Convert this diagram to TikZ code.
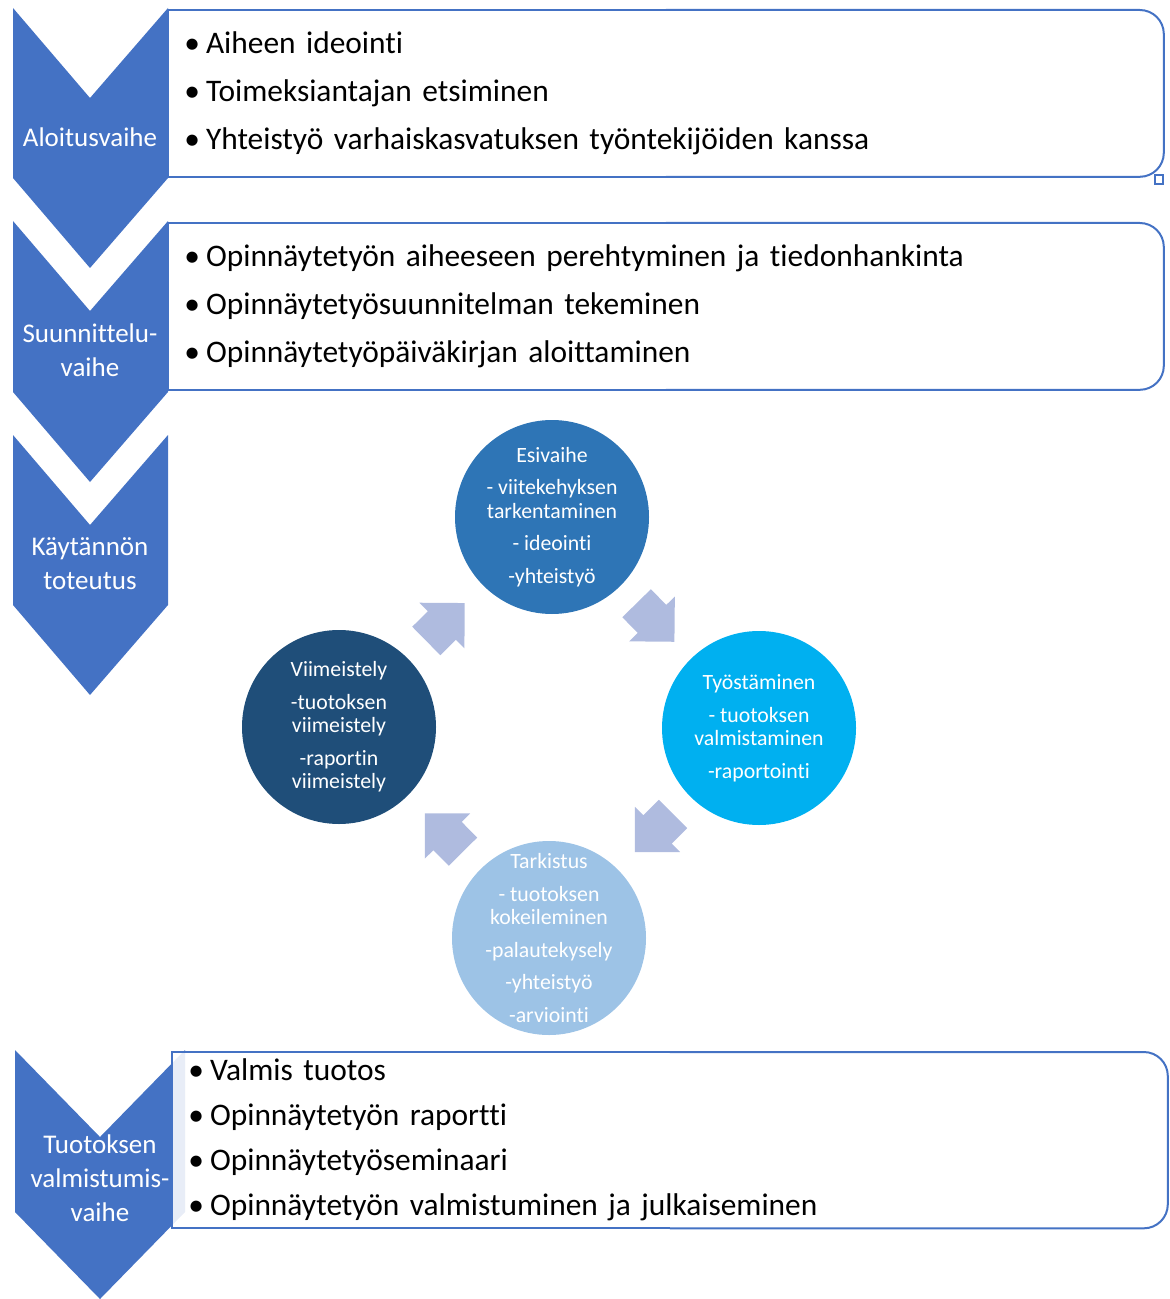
\documentclass[tikz,border=0pt]{standalone}
\usepackage{fontspec}
\setmainfont{Carlito}[Ligatures={NoCommon}, Contextuals={NoAlternate}]
\usetikzlibrary{positioning}
\definecolor{phaseblue}{HTML}{4472C4}
\definecolor{esicol}{HTML}{2E75B6}
\definecolor{tyocol}{HTML}{00B0F0}
\definecolor{tarkcol}{HTML}{9DC3E6}
\definecolor{viimcol}{HTML}{1F4E79}
\definecolor{arrowfill}{HTML}{AFBBDF}
\tikzset{
  phase/.style={fill=phaseblue},
  phasetext/.style={text=white, align=center, font=\fontsize{13.5}{17}\selectfont},
  listbox/.style={rectangle, anchor=north west, minimum width=497.5pt, inner xsep=8pt, text width=481.5pt, align=left},
  frame/.style={draw=phaseblue, line width=1pt},
  stage/.style={circle, minimum size=97pt, inner sep=0pt},
  stagetext/.style={text=white, align=center, font=\fontsize{10.9}{11.75}\selectfont},
  cyclearrow/.pic={\fill[arrowfill] (-27,-20) -- (-5,-20) -- (-5,-32) -- (27,0) -- (-5,32) -- (-5,20) -- (-27,20) -- cycle;}
}

\begin{document}
\begin{tikzpicture}[x=0.5pt, y=-0.5pt]
\useasboundingbox (0,0) rectangle (1169,1299);

%Phases
\fill[phase] (13,8) -- (90,98) -- (168,8) -- (168,178) -- (90,268) -- (13,178) -- cycle;
\fill[phase] (13,221) -- (90,311) -- (168,221) -- (168,392) -- (90,482) -- (13,392) -- cycle;
\fill[phase] (13,435) -- (90,525) -- (168,435) -- (168,605) -- (90,695) -- (13,605) -- cycle;
\fill[phase] (15,1050) -- (100,1137) -- (185,1050) -- (185,1212) -- (100,1299) -- (15,1212) -- cycle;

\node (aloitus) [phasetext] at (90,137) {Aloitusvaihe};
\node (suunnittelu) [phasetext] at (90,350) {Suunnittelu-\\vaihe};
\node (kaytanto) [phasetext] at (90,564) {Käytännön\\toteutus};
\node (valmistumis) [phasetext] at (100,1178) {Tuotoksen\\valmistumis-\\vaihe};

%Aloitus
\node (aloitus_box) [listbox, minimum height=83pt, font=\fontsize{15.7}{24}\selectfont] at (168,10) {
\textbullet\hspace{3pt}Aiheen ideointi\\
\textbullet\hspace{3pt}Toimeksiantajan etsiminen\\
\textbullet\hspace{3pt}Yhteistyö varhaiskasvatuksen työntekijöiden kanssa};
\draw [frame] (aloitus_box.south) -- (aloitus_box.south west) -- (aloitus_box.north west) -- (aloitus_box.north);
\draw [frame, rounded corners=12pt] (aloitus_box.north) -- (aloitus_box.north east) -- (aloitus_box.south east) -- (aloitus_box.south);
\draw [frame, line width=.8pt, fill=white] (1155,175) rectangle (1163,184);

%Suunnittelu
\node (suunnittelu_box) [listbox, minimum height=83pt, font=\fontsize{15.7}{24}\selectfont] at (168,223) {
\textbullet\hspace{3pt}Opinnäytetyön aiheeseen perehtyminen ja tiedonhankinta\\
\textbullet\hspace{3pt}Opinnäytetyösuunnitelman tekeminen\\
\textbullet\hspace{3pt}Opinnäytetyöpäiväkirjan aloittaminen};
\draw [frame] (suunnittelu_box.south) -- (suunnittelu_box.south west) -- (suunnittelu_box.north west) -- (suunnittelu_box.north);
\draw [frame, rounded corners=12pt] (suunnittelu_box.north) -- (suunnittelu_box.north east) -- (suunnittelu_box.south east) -- (suunnittelu_box.south);

%Valmistuminen
\node (valmistumis_box) [listbox, minimum height=85.5pt, fill=white, fill opacity=.88, text opacity=1, font=\fontsize{15.7}{22.5}\selectfont] at (172,1052) {
\textbullet\hspace{3pt}Valmis tuotos\\
\textbullet\hspace{3pt}Opinnäytetyön raportti\\
\textbullet\hspace{3pt}Opinnäytetyöseminaari\\
\textbullet\hspace{3pt}Opinnäytetyön valmistuminen ja julkaiseminen};
\draw [frame] (valmistumis_box.south) -- (valmistumis_box.south west) -- (valmistumis_box.north west) -- (valmistumis_box.north);
\draw [frame, rounded corners=12pt] (valmistumis_box.north) -- (valmistumis_box.north east) -- (valmistumis_box.south east) -- (valmistumis_box.south);

%Cycle
\node (esivaihe) [stage, fill=esicol] at (552,517) {};
\node (tyostaminen) [stage, fill=tyocol] at (759,728) {};
\node (tarkistus) [stage, fill=tarkcol] at (549,938) {};
\node (viimeistely) [stage, fill=viimcol] at (339,727) {};

\node (esivaihe_text) [stagetext] at (esivaihe) {Esivaihe\\[4.5pt] - viitekehyksen\\tarkentaminen\\[4.5pt] - ideointi\\[4.5pt] -yhteistyö};
\node (tyostaminen_text) [stagetext] at (tyostaminen) {Työstäminen\\[4.5pt] - tuotoksen\\valmistaminen\\[4.5pt] -raportointi};
\node (tarkistus_text) [stagetext] at (tarkistus) {Tarkistus\\[4.5pt] - tuotoksen\\kokeileminen\\[4.5pt] -palautekysely\\[4.5pt] -yhteistyö\\[4.5pt] -arviointi};
\node (viimeistely_text) [stagetext] at (viimeistely) {Viimeistely\\[4.5pt] -tuotoksen\\viimeistely\\[4.5pt] -raportin\\viimeistely};

\path (viimeistely) -- (esivaihe) pic [midway, sloped, allow upside down] {cyclearrow};
\path (esivaihe) -- (tyostaminen) pic [midway, sloped, allow upside down] {cyclearrow};
\path (tyostaminen) -- (tarkistus) pic [midway, sloped, allow upside down] {cyclearrow};
\path (tarkistus) -- (viimeistely) pic [midway, sloped, allow upside down] {cyclearrow};

\end{tikzpicture}
\end{document}
